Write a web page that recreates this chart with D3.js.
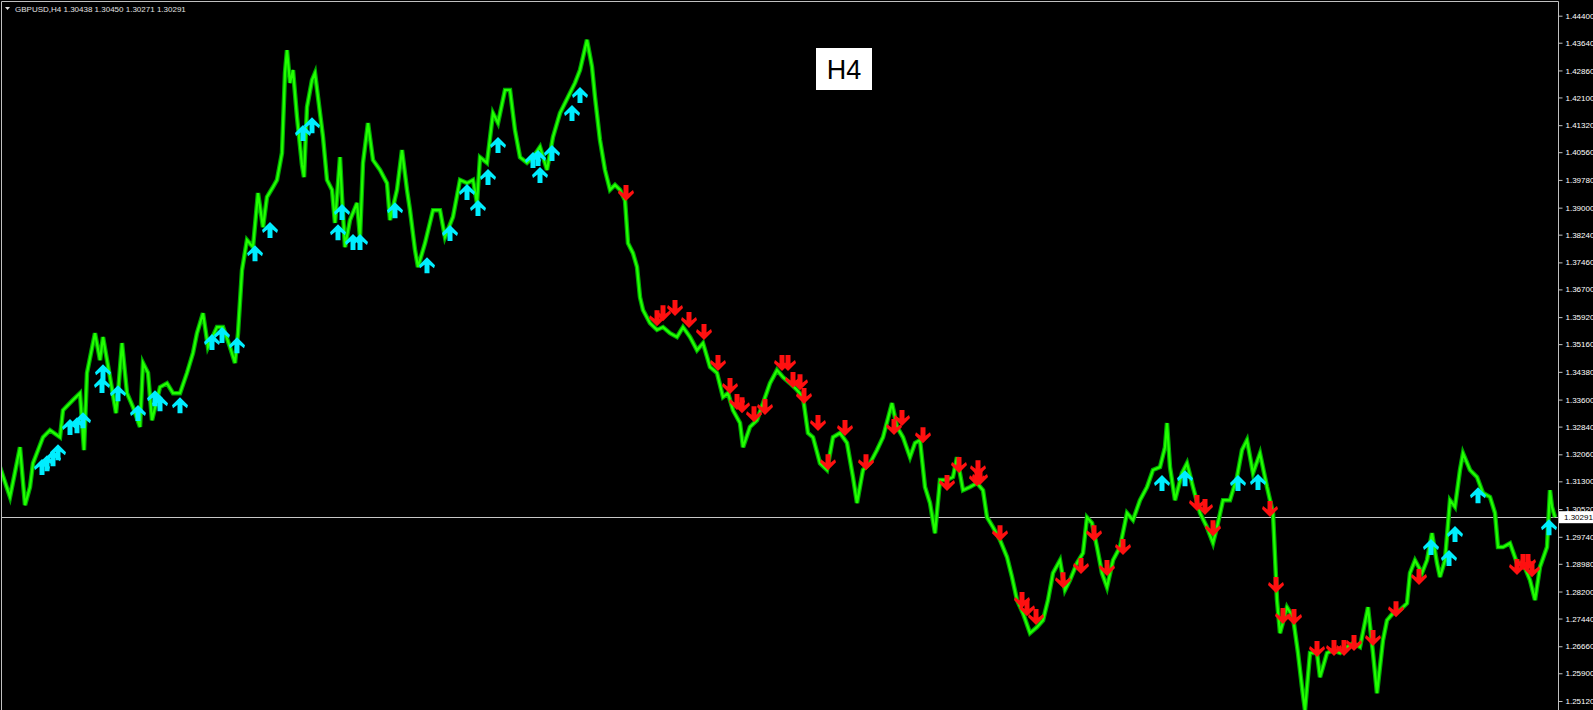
<!DOCTYPE html>
<html>
<head>
<meta charset="utf-8">
<script src="https://cdn.jsdelivr.net/npm/d3@7"></script>
<style>
  html, body { margin: 0; padding: 0; background: #000; overflow: hidden; }
  svg { display: block; }
</style>
</head>
<body>
<svg id="chart" width="1593" height="710"></svg>
<script>
// ---------------- DATA ----------------
const symbolTitle = "GBPUSD,H4  1.30438 1.30450 1.30271 1.30291";
const timeframeLabel = "H4";
const lastPrice = 1.30291;

// price axis tick labels
const priceTicks = [1.44400, 1.43640, 1.42860, 1.42100, 1.41320, 1.40560, 1.39780, 1.39000,
  1.38240, 1.37460, 1.36700, 1.35920, 1.35160, 1.34380, 1.33600, 1.32840, 1.32060, 1.31300,
  1.30520, 1.29740, 1.28980, 1.28200, 1.27440, 1.26660, 1.25900, 1.25120];

// bar index (H4 bars, oldest = 0) and price
const barIndex = [0,10,20,25,30,33,43,50,60,63,73,80,84,87,95,100,103,110,116,118,122,127,133,140,143,148,152,160,167,173,180,187,193,197,203,208,217,223,230,235,238,242,247,253,258,263,267,273,277,282,285,287,290,293,297,302,304,307,312,315,318,323,327,332,335,340,342,345,350,357,360,363,368,373,380,387,390,397,402,407,410,415,418,425,433,440,445,453,460,467,473,477,480,487,493,498,505,510,515,520,527,533,540,547,553,560,568,575,580,587,592,595,600,605,610,615,620,625,628,633,637,640,643,650,657,663,670,677,683,690,697,703,710,717,723,728,733,740,743,750,757,763,770,777,783,790,797,803,808,813,820,827,833,840,847,853,857,863,870,877,883,892,897,903,910,915,920,925,930,935,940,947,953,957,963,970,977,983,987,993,1000,1007,1012,1017,1023,1030,1037,1043,1048,1053,1060,1065,1070,1077,1083,1087,1092,1097,1102,1107,1113,1120,1127,1133,1140,1147,1153,1160,1165,1167,1170,1175,1182,1187,1193,1200,1207,1213,1217,1223,1230,1237,1242,1247,1253,1260,1267,1273,1277,1280,1287,1293,1298,1302,1305,1310,1317,1320,1327,1333,1340,1347,1353,1360,1368,1373,1377,1383,1387,1393,1400,1407,1410,1415,1422,1427,1432,1437,1440,1445,1450,1455,1460,1463,1470,1477,1483,1490,1495,1498,1503,1510,1517,1523,1530,1535,1540,1547,1550,1552,1555];
const barPrice = [1.3170,1.3086,1.3226,1.3063,1.3114,1.3181,1.3254,1.3274,1.3254,1.3330,1.3359,1.3378,1.3218,1.3435,1.3547,1.3471,1.3536,1.3423,1.3322,1.3378,1.3519,1.3378,1.3339,1.3283,1.3463,1.3435,1.3302,1.3395,1.3406,1.3378,1.3378,1.3435,1.3491,1.3547,1.3603,1.3508,1.3564,1.3564,1.3508,1.3463,1.3547,1.3724,1.3809,1.3789,1.3941,1.3845,1.3930,1.3958,1.3978,1.4054,1.4279,1.4343,1.4251,1.4287,1.4155,1.4020,1.3986,1.4183,1.4259,1.4279,1.4211,1.4099,1.3978,1.3950,1.3857,1.4042,1.3930,1.3789,1.3865,1.3913,1.3817,1.4026,1.4138,1.4034,1.4006,1.3969,1.3865,1.3950,1.4062,1.3950,1.3893,1.3781,1.3733,1.3800,1.3893,1.3893,1.3817,1.3874,1.3978,1.3969,1.3978,1.3913,1.4042,1.4026,1.4166,1.4138,1.4231,1.4231,1.4118,1.4042,1.4026,1.4042,1.4071,1.4006,1.4099,1.4166,1.4211,1.4251,1.4287,1.4372,1.4296,1.4211,1.4090,1.4006,1.3950,1.3964,1.3950,1.3921,1.3800,1.3772,1.3733,1.3648,1.3612,1.3575,1.3556,1.3564,1.3547,1.3536,1.3564,1.3536,1.3499,1.3519,1.3452,1.3435,1.3367,1.3378,1.3330,1.3294,1.3226,1.3283,1.3302,1.3350,1.3406,1.3443,1.3423,1.3406,1.3387,1.3367,1.3266,1.3254,1.3181,1.3162,1.3254,1.3266,1.3238,1.3142,1.3069,1.3162,1.3181,1.3218,1.3254,1.3350,1.3283,1.3254,1.3198,1.3238,1.3246,1.3114,1.3069,1.2984,1.3134,1.3134,1.3142,1.3198,1.3105,1.3114,1.3125,1.3105,1.3029,1.3001,1.2965,1.2917,1.2861,1.2796,1.2759,1.2703,1.2720,1.2739,1.2796,1.2872,1.2908,1.2824,1.2852,1.2900,1.2928,1.3029,1.3013,1.2945,1.2872,1.2832,1.2908,1.2945,1.3041,1.3021,1.3077,1.3114,1.3162,1.3170,1.3226,1.3294,1.3170,1.3077,1.3153,1.3181,1.3114,1.3041,1.3001,1.2956,1.3001,1.3077,1.3077,1.3142,1.3218,1.3246,1.3153,1.3209,1.3114,1.3041,1.2796,1.2703,1.2776,1.2748,1.2647,1.2551,1.2486,1.2647,1.2647,1.2579,1.2647,1.2655,1.2647,1.2664,1.2675,1.2664,1.2776,1.2647,1.2534,1.2683,1.2739,1.2759,1.2768,1.2787,1.2872,1.2908,1.2872,1.2908,1.2984,1.2900,1.2861,1.2908,1.3077,1.3058,1.3162,1.3209,1.3162,1.3142,1.3097,1.3086,1.3041,1.2945,1.2945,1.2956,1.2900,1.2900,1.2852,1.2796,1.2889,1.2945,1.3105,1.3058,1.3029];

// buy signals (cyan up arrows)
const buyBar = [42,47,53,58,70,77,83,102,103,118,138,155,160,180,212,222,237,255,270,303,312,338,342,353,360,395,427,450,467,478,488,498,533,538,540,552,572,580,1162,1185,1238,1258,1431,1449,1455,1478,1549];
const buyPrice = [1.3170,1.3181,1.3195,1.3212,1.3283,1.3288,1.3302,1.3401,1.3437,1.3378,1.3322,1.3364,1.3350,1.3344,1.3522,1.3542,1.3513,1.3772,1.3837,1.4110,1.4132,1.3831,1.3888,1.3803,1.3803,1.3893,1.3738,1.3829,1.3944,1.3899,1.3986,1.4076,1.4034,1.4040,1.3992,1.4054,1.4166,1.4217,1.3125,1.3139,1.3125,1.3128,1.2945,1.2914,1.2982,1.3091,1.3001];

// sell signals (red down arrows)
const sellBar = [626,657,663,675,689,704,718,730,737,742,754,765,782,788,793,800,804,818,828,845,866,894,902,923,947,959,977,978,980,1000,1022,1027,1036,1063,1081,1094,1107,1123,1197,1205,1213,1270,1276,1283,1294,1317,1334,1344,1354,1373,1396,1419,1517,1523,1528,1532];
const sellPrice = [1.3941,1.3589,1.3603,1.3618,1.3584,1.3550,1.3463,1.3398,1.3353,1.3344,1.3319,1.3339,1.3463,1.3463,1.3415,1.3409,1.3370,1.3294,1.3184,1.3280,1.3184,1.3283,1.3308,1.3260,1.3125,1.3176,1.3139,1.3167,1.3142,1.2984,1.2796,1.2773,1.2748,1.2852,1.2892,1.2984,1.2886,1.2945,1.3069,1.3058,1.2998,1.3052,1.2838,1.2751,1.2748,1.2658,1.2661,1.2661,1.2675,1.2689,1.2770,1.2861,1.2889,1.2903,1.2903,1.2883];

// ---------------- DRAW ----------------
const W = 1593, H = 710;
const axisX = 1558;
const svg = d3.select("#chart");

svg.append("rect").attr("width", W).attr("height", H).attr("fill", "#000");

const x = d3.scaleLinear().domain([0, 1558]).range([0, axisX]);
const y = d3.scaleLinear().domain([1.25120, 1.44400]).range([701, 15.7]);

const plot = svg.append("g");
plot.append("clipPath").attr("id", "clip")
  .append("rect").attr("x", 1).attr("y", 1).attr("width", axisX - 1).attr("height", H);
const inner = plot.append("g").attr("clip-path", "url(#clip)");

// current price line
inner.append("line")
  .attr("x1", 0).attr("x2", axisX)
  .attr("y1", Math.round(y(lastPrice)) + 0.5).attr("y2", Math.round(y(lastPrice)) + 0.5)
  .attr("stroke", "#c8c8c8").attr("stroke-width", 1);

// price series
const series = barIndex.map((b, i) => ({ b, p: barPrice[i] }));
const line = d3.line().x(d => x(d.b)).y(d => y(d.p));
inner.append("path").datum(series)
  .attr("d", line)
  .attr("fill", "none")
  .attr("stroke", "#00a800")
  .attr("stroke-width", 4.5)
  .attr("stroke-linejoin", "miter");
inner.append("path").datum(series)
  .attr("d", line)
  .attr("fill", "none")
  .attr("stroke", "#22ff00")
  .attr("stroke-width", 2.2)
  .attr("stroke-linejoin", "miter");

// arrows
const upShape = "M0,-8 L8,0 L7,3 L2.5,-0.5 L2.5,8 L-2.5,8 L-2.5,-0.5 L-7,3 L-8,0 Z";
const downShape = "M0,8 L8,0 L7,-3 L2.5,0.5 L2.5,-8 L-2.5,-8 L-2.5,0.5 L-7,-3 L-8,0 Z";

inner.append("g").selectAll("path")
  .data(buyBar.map((b, i) => ({ b, p: buyPrice[i] })))
  .join("path")
  .attr("d", upShape)
  .attr("transform", d => `translate(${x(d.b)},${y(d.p)})`)
  .attr("fill", "#00eeff");

inner.append("g").selectAll("path")
  .data(sellBar.map((b, i) => ({ b, p: sellPrice[i] })))
  .join("path")
  .attr("d", downShape)
  .attr("transform", d => `translate(${x(d.b)},${y(d.p)})`)
  .attr("fill", "#ff1010");

// frame
svg.append("path")
  .attr("d", `M${axisX + 0.5},${H} L${axisX + 0.5},1.5 L1.5,1.5 L1.5,${H}`)
  .attr("fill", "none").attr("stroke", "#c0c0c0").attr("stroke-width", 1);

// right price axis
const axis = d3.axisRight(y)
  .tickValues(priceTicks)
  .tickFormat(d3.format(".5f"))
  .tickSize(4)
  .tickPadding(3);
const ag = svg.append("g").attr("transform", `translate(${axisX + 0.5},0)`).call(axis);
ag.select(".domain").remove();
ag.selectAll(".tick line").attr("stroke", "#c0c0c0");
ag.selectAll(".tick text")
  .attr("fill", "#ffffff")
  .attr("font-family", "'Liberation Sans', Arial, sans-serif")
  .attr("font-size", 8);

// last price label
const ly = y(lastPrice);
svg.append("rect")
  .attr("x", axisX + 1).attr("y", ly - 6).attr("width", W - axisX - 1).attr("height", 12)
  .attr("fill", "#ffffff");
svg.append("text")
  .attr("x", axisX + 6).attr("y", ly + 3)
  .attr("font-family", "'Liberation Sans', Arial, sans-serif")
  .attr("font-size", 8).attr("fill", "#000")
  .text(d3.format(".5f")(lastPrice));

// title
svg.append("path").attr("d", "M5,7 L10,7 L7.5,10 Z").attr("fill", "#e0e0e0");
svg.append("text")
  .attr("x", 15).attr("y", 11.5)
  .attr("font-family", "'Liberation Sans', Arial, sans-serif")
  .attr("font-size", 8).attr("fill", "#e0e0e0")
  .text(symbolTitle);

// timeframe label box
svg.append("rect")
  .attr("x", 816).attr("y", 48).attr("width", 56).attr("height", 42)
  .attr("fill", "#ffffff");
svg.append("text")
  .attr("x", 844).attr("y", 69).attr("dy", "0.36em")
  .attr("text-anchor", "middle")
  .attr("font-family", "'Liberation Sans', Arial, sans-serif")
  .attr("font-size", 27).attr("fill", "#000")
  .text(timeframeLabel);
</script>
</body>
</html>
